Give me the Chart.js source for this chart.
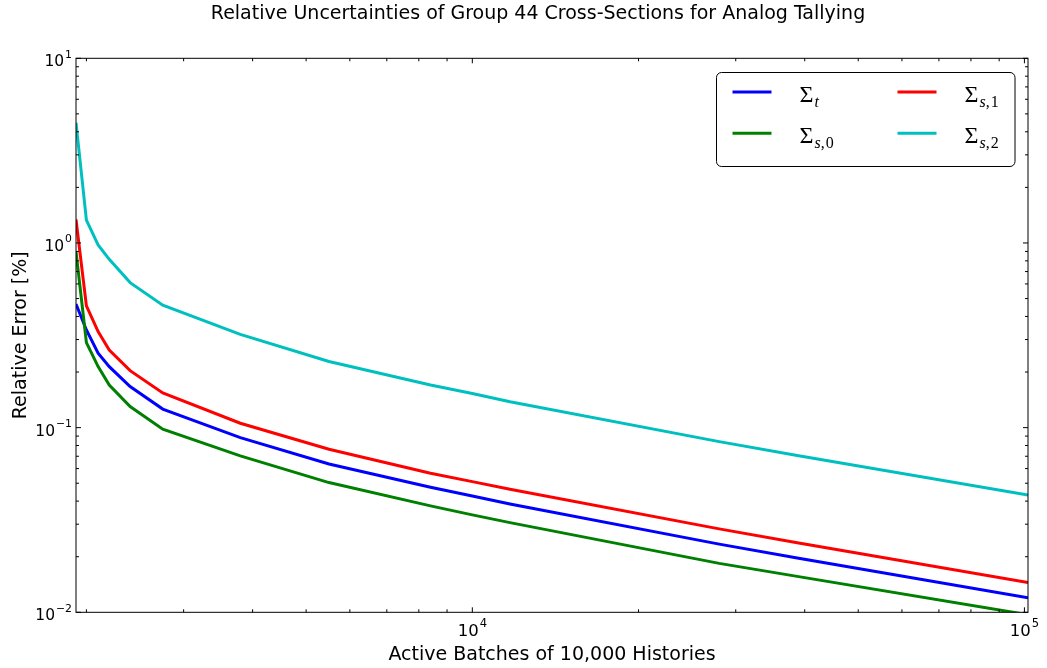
<!DOCTYPE html>
<html>
<head>
<meta charset="utf-8">
<script src="https://cdn.jsdelivr.net/npm/chart.js@4/dist/chart.umd.min.js"></script>
<style>
    body { margin: 0; background: #fff; }
    canvas { display: block; }
</style>
</head>
<body>
<canvas id="grafica" width="1047" height="668"></canvas>
<script>
// lotes activos (eje x) y error relativo en % de cada seccion eficaz
var lotes   = [1915, 2000, 2100, 2200, 2400, 2750, 3800, 5500, 8400, 10000, 11700, 28000, 39000, 101500];
var sigmaT  = [0.4675, 0.338, 0.253, 0.214, 0.167, 0.126, 0.0883, 0.0636, 0.0476, 0.0426, 0.0386, 0.0234, 0.0196, 0.0120];
var sigmaS0 = [0.897, 0.2885, 0.214, 0.170, 0.130, 0.098, 0.0703, 0.0504, 0.0377, 0.0337, 0.0306, 0.0184, 0.0156, 0.0097];
var sigmaS1 = [1.34, 0.456, 0.331, 0.263, 0.2035, 0.154, 0.1056, 0.0764, 0.0566, 0.051, 0.0464, 0.0283, 0.0237, 0.0145];
var sigmaS2 = [4.48, 1.33, 0.975, 0.815, 0.61, 0.46, 0.32, 0.228, 0.170, 0.153, 0.138, 0.084, 0.0705, 0.0432];

var subindices = ['t', 's,0', 's,1', 's,2'];
var colores = ['#0000ff', '#008000', '#ff0000', '#00bfbf'];

var ticksX = [1e4, 1e5];
var expX = ['4', '5'];
var ticksY = [1e-2, 1e-1, 1, 10];
var expY = ['\u22122', '\u22121', '0', '1'];

var series = [sigmaT, sigmaS0, sigmaS1, sigmaS2];
var datasets = series.map((valores, i) => ({
    label: subindices[i],
    data: valores.map((v, j) => ({x: lotes[j], y: v})),
    borderColor: colores[i],
    borderWidth: 3,
    pointRadius: 0,
    fill: false,
    tension: 0,
    order: 3 - i
}));

// potencias de 10 con exponente como superindice
function potencia(ctx, x, y, exp, tam, alinear) {
    ctx.font = tam + 'px "DejaVu Sans"';
    var wBase = ctx.measureText('10').width;
    ctx.font = (tam * 0.7) + 'px "DejaVu Sans"';
    var wExp = ctx.measureText(exp).width;
    var inicio = alinear === 'right' ? x - wBase - wExp - 1 : x - (wBase + wExp + 1) / 2;
    ctx.textAlign = 'left';
    ctx.textBaseline = 'alphabetic';
    ctx.font = tam + 'px "DejaVu Sans"';
    ctx.fillText('10', inicio, y);
    ctx.font = (tam * 0.7) + 'px "DejaVu Sans"';
    ctx.fillText(exp, inicio + wBase + 1, y - tam * 0.55);
}

function menores(min, max, mayores) {
    var res = [];
    for (var k = Math.floor(Math.log10(min)); k <= Math.ceil(Math.log10(max)); k++) {
        for (var m = 2; m <= 9; m++) {
            var v = m * Math.pow(10, k);
            if (v > min && v < max && !mayores.includes(v)) res.push(v);
        }
    }
    return res;
}

var marco = {
    id: 'marco',
    afterDatasetsDraw(chart) {
        var ctx = chart.ctx;
        var a = chart.chartArea;
        var sx = chart.scales.x, sy = chart.scales.y;
        ctx.save();
        ctx.strokeStyle = '#000';
        ctx.lineWidth = 1;
        ctx.strokeRect(a.left, a.top, a.right - a.left, a.bottom - a.top);

        // marcas hacia dentro en los cuatro lados
        ctx.beginPath();
        var marcasX = ticksX.map(v => [v, 5]).concat(menores(sx.min, sx.max, ticksX).map(v => [v, 3]));
        marcasX.forEach(([v, l]) => {
            var px = sx.getPixelForValue(v);
            if (px < a.left || px > a.right) return;
            ctx.moveTo(px, a.bottom); ctx.lineTo(px, a.bottom - l);
            ctx.moveTo(px, a.top); ctx.lineTo(px, a.top + l);
        });
        var marcasY = ticksY.map(v => [v, 5]).concat(menores(sy.min, sy.max, ticksY).map(v => [v, 3]));
        marcasY.forEach(([v, l]) => {
            var py = sy.getPixelForValue(v);
            ctx.moveTo(a.left, py); ctx.lineTo(a.left + l, py);
            ctx.moveTo(a.right, py); ctx.lineTo(a.right - l, py);
        });
        ctx.stroke();

        ctx.fillStyle = '#000';
        ticksX.forEach((v, i) => potencia(ctx, sx.getPixelForValue(v), a.bottom + 23.5, expX[i], 16.5, 'center'));
        ticksY.forEach((v, i) => potencia(ctx, a.left - 4, sy.getPixelForValue(v) + 8, expY[i], 15.5, 'right'));

        // titulos
        ctx.textAlign = 'center';
        ctx.textBaseline = 'alphabetic';
        ctx.font = '19px "DejaVu Sans"';
        ctx.fillText('Relative Uncertainties of Group 44 Cross-Sections for Analog Tallying', 538, 19);
        ctx.fillText('Active Batches of 10,000 Histories', (a.left + a.right) / 2, 660);
        ctx.save();
        ctx.translate(26, (a.top + a.bottom) / 2);
        ctx.rotate(-Math.PI / 2);
        ctx.fillText('Relative Error [%]', 0, 0);
        ctx.restore();

        // leyenda en dos columnas
        var cx = 716.5, cy = 72.5, cw = 298.5, ch = 94;
        ctx.beginPath();
        ctx.roundRect(cx, cy, cw, ch, 5);
        ctx.fillStyle = '#fff';
        ctx.fill();
        ctx.strokeStyle = '#000';
        ctx.stroke();
        chart.data.datasets.forEach((ds, i) => {
            var col = Math.floor(i / 2), fila = i % 2;
            var x0 = cx + 16 + col * 165;
            var y0 = cy + 19.5 + fila * 41.3;
            ctx.beginPath();
            ctx.strokeStyle = ds.borderColor;
            ctx.lineWidth = 3;
            ctx.moveTo(x0, y0); ctx.lineTo(x0 + 39, y0);
            ctx.stroke();
            ctx.fillStyle = '#000';
            ctx.textAlign = 'left';
            ctx.font = '24px "Liberation Serif"';
            var xs = x0 + 67;
            ctx.fillText('\u03A3', xs, y0 + 10);
            xs += ctx.measureText('\u03A3').width + 1;
            ds.label.split('').forEach(c => {
                ctx.font = (/[a-z]/.test(c) ? 'italic ' : '') + '16px "Liberation Serif"';
                ctx.fillText(c, xs, y0 + 15);
                xs += ctx.measureText(c).width + (c === ',' ? 1 : 0);
            });
        });
        ctx.restore();
    }
};

var grafica = new Chart(document.getElementById('grafica').getContext('2d'), {
    type: 'line',
    data: { datasets: datasets },
    options: {
        responsive: false,
        animation: false,
        devicePixelRatio: 1,
        layout: { padding: { top: 58.3, right: 19, left: 0, bottom: 0 } },
        plugins: { legend: { display: false }, title: { display: false }, tooltip: { enabled: false } },
        scales: {
            x: {
                type: 'logarithmic', min: 1915, max: 101500,
                ticks: { display: false }, grid: { display: false }, border: { display: false },
                afterFit: s => { s.height = 668 - 612.3; }
            },
            y: {
                type: 'logarithmic', min: 0.01, max: 10,
                ticks: { display: false }, grid: { display: false }, border: { display: false },
                afterFit: s => { s.width = 76; }
            }
        }
    },
    plugins: [marco]
});
</script>
</body>
</html>
